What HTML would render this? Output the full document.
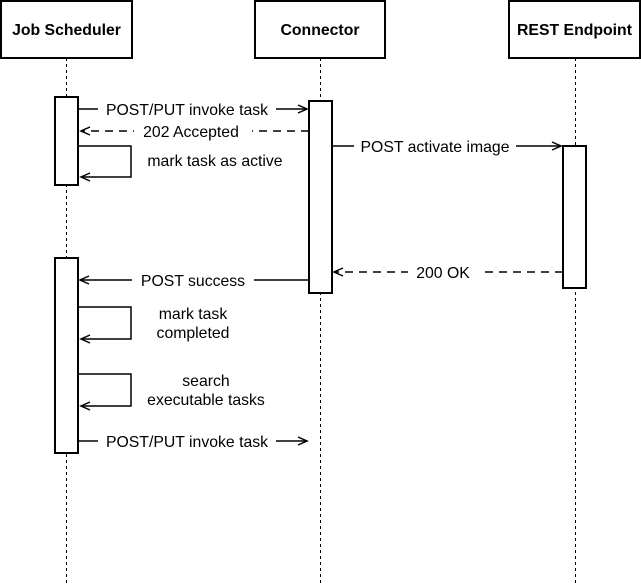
<!DOCTYPE html>
<html><head><style>body{margin:0;background:#fff}svg{display:block}text{font-family:"Liberation Sans",Arial,sans-serif;font-size:15.8px;fill:#000}</style></head>
<body>
<svg width="641" height="586" viewBox="0 0 641 586" xmlns="http://www.w3.org/2000/svg">
<g stroke="#000" stroke-width="1" stroke-dasharray="3,3" fill="none">
<line x1="66.5" y1="58" x2="66.5" y2="586"/>
<line x1="320.5" y1="58" x2="320.5" y2="586"/>
<line x1="575.5" y1="58" x2="575.5" y2="586"/>
</g>
<g stroke="#000" stroke-width="2" fill="#fff">
<rect x="1" y="1" width="131" height="57"/>
<rect x="255" y="1" width="130" height="57"/>
<rect x="509" y="1" width="131" height="57"/>
<rect x="55" y="97" width="23" height="88"/>
<rect x="309" y="101" width="23" height="192"/>
<rect x="563" y="146" width="23" height="142"/>
<rect x="55" y="258" width="23" height="195"/>
</g>
<g text-anchor="middle">
<text x="66.5" y="35" font-weight="bold">Job Scheduler</text>
<text x="320" y="35" font-weight="bold">Connector</text>
<text x="574.5" y="35" font-weight="bold">REST Endpoint</text>
</g>
<g stroke="#000" stroke-width="1.5" fill="none">
<line x1="78" y1="109" x2="307" y2="109"/><polyline points="298,105 307,109 298,113"/>
<line x1="309" y1="131" x2="81" y2="131" stroke-dasharray="8,6"/><polyline points="90,127 81,131 90,135"/>
<polyline points="78,146 131,146 131,177 81,177"/><polyline points="90,173 81,177 90,181"/>
<line x1="332" y1="146" x2="561" y2="146"/><polyline points="552,142 561,146 552,150"/>
<line x1="563" y1="272" x2="334" y2="272" stroke-dasharray="8,6"/><polyline points="343,268 334,272 343,276"/>
<line x1="309" y1="280" x2="80" y2="280"/><polyline points="89,276 80,280 89,284"/>
<polyline points="78,307 131,307 131,339 81,339"/><polyline points="90,335 81,339 90,343"/>
<polyline points="78,374 131,374 131,406 81,406"/><polyline points="90,402 81,406 90,410"/>
<line x1="78" y1="441" x2="307" y2="441"/><polyline points="298,437 307,441 298,445"/>
</g>
<g fill="#fff">
<rect x="98" y="100" width="178" height="18"/>
<rect x="134" y="122" width="118" height="18"/>
<rect x="354" y="137" width="162" height="18"/>
<rect x="408" y="263" width="72" height="18"/>
<rect x="132" y="271" width="122" height="18"/>
<rect x="98" y="432" width="178" height="18"/>
</g>
<g text-anchor="middle">
<text x="187" y="115">POST/PUT invoke task</text>
<text x="191" y="137">202 Accepted</text>
<text x="215" y="166">mark task as active</text>
<text x="435" y="152">POST activate image</text>
<text x="443" y="278">200 OK</text>
<text x="193" y="286">POST success</text>
<text x="193" y="319">mark task</text>
<text x="193" y="338">completed</text>
<text x="206" y="386">search</text>
<text x="206" y="405">executable tasks</text>
<text x="187" y="447">POST/PUT invoke task</text>
</g>
</svg>
</body></html>
